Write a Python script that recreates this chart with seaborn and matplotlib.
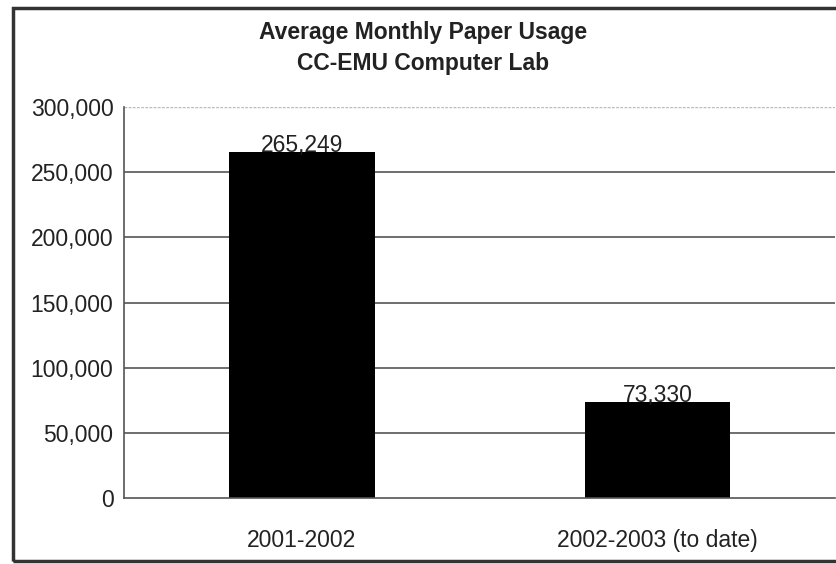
import matplotlib
matplotlib.use("Agg")
import matplotlib.pyplot as plt
import matplotlib.patches as mpatches
from matplotlib.ticker import FuncFormatter
import seaborn as sns
import pandas as pd

# Chart data
periods = ["2001-2002", "2002-2003 (to date)"]
usage = [265249, 73330]
yticks = [0, 50000, 100000, 150000, 200000, 250000, 300000]

df = pd.DataFrame({"period": periods, "usage": usage})

sns.set_style("white")
plt.rcParams["font.family"] = ["Liberation Sans", "DejaVu Sans"]

fig = plt.figure(figsize=(8.37, 5.64), dpi=100)
ax = fig.add_axes([0.148, 0.117, 0.850, 0.693])

sns.barplot(data=df, x="period", y="usage", color="black", width=0.41,
            saturation=1, edgecolor="black", linewidth=0, ax=ax)

ax.set_xlim(-0.5, 1.5)
ax.set_ylim(0, 300000)
ax.set_yticks(yticks)
ax.yaxis.set_major_formatter(FuncFormatter(lambda v, p: f"{int(v):,}"))

# horizontal gridlines
for t in yticks[1:]:
    if t == yticks[-1]:
        ax.axhline(t, color="#bbbbbb", lw=1, ls=(0, (2, 1)), zorder=0)
    else:
        ax.axhline(t, color="#555555", lw=1.2, zorder=0)

for s in ["top", "right"]:
    ax.spines[s].set_visible(False)
ax.spines["left"].set_color("#555555")
ax.spines["bottom"].set_color("#555555")
ax.spines["left"].set_linewidth(1.2)
ax.spines["bottom"].set_linewidth(1.2)

ax.tick_params(axis="y", length=6, width=1, color="#555555", labelsize=16.5,
               labelcolor="#222222", pad=1.5)
ax.tick_params(axis="x", which="major", length=0, labelsize=16.5,
               labelcolor="#222222", pad=22)
ax.set_xticks([0.5, 1.5], minor=True)
ax.tick_params(axis="x", which="minor", length=7, width=1, color="#555555")

ax.set_xlabel("")
ax.set_ylabel("")

for i, v in enumerate(usage):
    ax.text(i, v + 600, f"{v:,}", ha="center", va="baseline", fontsize=16.5,
            color="#222222")

fig.text(0.505, 0.943, "Average Monthly Paper Usage", ha="center", va="center",
         fontsize=16.5, fontweight="bold", color="#222222")
fig.text(0.505, 0.888, "CC-EMU Computer Lab", ha="center", va="center",
         fontsize=16.5, fontweight="bold", color="#222222")

# outer chart frame
frame = mpatches.Rectangle((0.015, 0.005), 0.99, 0.98, transform=fig.transFigure,
                           fill=False, edgecolor="#333333", lw=2.5)
fig.patches.append(frame)

fig.savefig("out.png", dpi=100)
plt.close(fig)
